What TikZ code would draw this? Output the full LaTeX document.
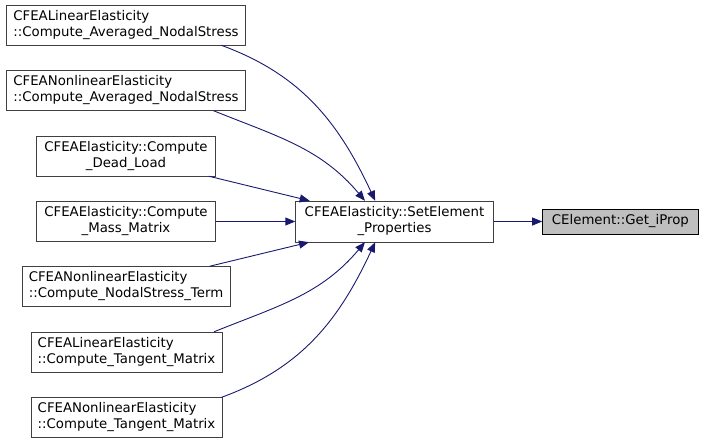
\documentclass[tikz,border=0pt]{standalone}
\usepackage{fontspec}
\setmainfont{DejaVu Sans}
\usepackage{xcolor}
\usetikzlibrary{positioning}
\usetikzlibrary{arrows.meta}
\definecolor{edgeblue}{HTML}{191970}
\definecolor{focusgray}{HTML}{BFBFBF}
\tikzset{
    caller/.style={draw=black!75, rectangle, fill=white, align=left, inner xsep=7pt, minimum height=40pt, font=\fontsize{13.3}{16}\selectfont},
    member/.style={draw=black!75, rectangle, fill=white, align=center, minimum width=198pt, minimum height=41pt, font=\fontsize{13.3}{16}\selectfont},
    focus/.style={draw=black, rectangle, fill=focusgray, minimum width=156pt, minimum height=25pt, font=\fontsize{13.3}{16}\selectfont},
    arrow/.style={edgeblue, line width=0.9pt, -{Triangle[length=10pt,width=8pt]}}
}

\begin{document}
\begin{tikzpicture}[x=1pt, y=1pt]
\useasboundingbox (0,0) rectangle (704,-444);

\node [caller] (linavg)    at (126,-25)    {CFEALinearElasticity\\::Compute\_Averaged\_NodalStress};
\node [caller] (nonavg)    at (126,-90.5)  {CFEANonlinearElasticity\\::Compute\_Averaged\_NodalStress};
\node [caller, align=center, inner xsep=8pt] (deadload) at (126,-156) {CFEAElasticity::Compute\\\_Dead\_Load};
\node [caller, align=center, inner xsep=8pt] (massmat)  at (126,-221.5) {CFEAElasticity::Compute\\\_Mass\_Matrix};
\node [caller] (nonterm)   at (126,-286.5) {CFEANonlinearElasticity\\::Compute\_NodalStress\_Term};
\node [caller] (lintang)   at (126.5,-352) {CFEALinearElasticity\\::Compute\_Tangent\_Matrix};
\node [caller] (nontang)   at (126.5,-417.5) {CFEANonlinearElasticity\\::Compute\_Tangent\_Matrix};
\node [member] (setprop)   at (394.5,-221.5) {CFEAElasticity::SetElement\\\_Properties};
\node [focus, right=48.5pt of setprop] (getiprop) {CElement::Get\_iProp};

\draw [arrow] (linavg.-12) to [out=-20, in=115] (setprop.133);
\draw [arrow] (nonavg.-13) to [out=-22, in=130] (setprop.145);
\draw [arrow] (deadload) -- (setprop);
\draw [arrow] (massmat) -- (setprop);
\draw [arrow] (nonterm) -- (setprop);
\draw [arrow] (lintang.13) to [out=22, in=-130] (setprop.-145);
\draw [arrow] (nontang.12) to [out=20, in=-115] (setprop.-133);
\draw [arrow] (setprop) -- (getiprop);

\end{tikzpicture}
\end{document}
